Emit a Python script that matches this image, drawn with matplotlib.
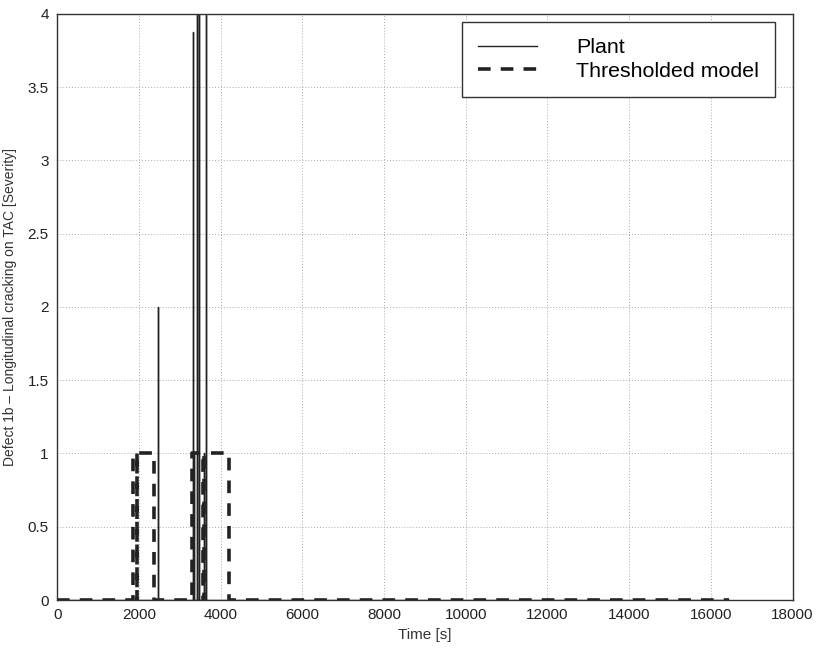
import numpy as np
import matplotlib.pyplot as plt

plt.rcParams['font.family'] = ['Liberation Sans', 'DejaVu Sans']

# plant: isolated spikes (time [s], severity), zero elsewhere
plant_spike_times = [2480, 3316, 3355, 3429, 3478, 3600, 3642]
plant_spike_heights = [2.0, 3.88, 1.0, 4.6, 4.6, 1.0, 3.99]
t_end = 16450

# thresholded model: step changes (time [s], level after the change)
model_times = [0, 1848, 1950, 1960, 2376, 3300, 3560, 3600, 4212, t_end]
model_levels = [0, 1, 0, 1, 0, 1, 0, 1, 0, 0]


def spikes(times, heights, end):
    t = [0]
    y = [0]
    for ti, hi in zip(times, heights):
        t += [ti, ti, ti]
        y += [0, hi, 0]
    t.append(end)
    y.append(0)
    return np.array(t), np.array(y)


def main():
    plant_t, plant_y = spikes(plant_spike_times, plant_spike_heights, t_end)

    fig = plt.figure(figsize=(8.18, 6.49), dpi=100)
    ax = fig.add_axes([0.0699, 0.0755, 0.8990, 0.9030])

    ax.plot(plant_t, plant_y, color="#222222", lw=1.0, label="Plant")
    ax.plot(model_times, model_levels, color="#222222", lw=2.6,
            dashes=(3.5, 2.8), drawstyle="steps-post", label="Thresholded model")

    ax.set_xlim(0, 18000)
    ax.set_ylim(0, 4)
    ax.set_xticks(np.arange(0, 18001, 2000))
    ax.set_yticks(np.arange(0, 4.01, 0.5))
    ax.set_yticklabels(["0", "0.5", "1", "1.5", "2", "2.5", "3", "3.5", "4"])
    ax.tick_params(labelsize=11, direction="in", length=0, pad=6, labelcolor="#222222")
    ax.grid(True, color="#aaaaaa", linestyle=(0, (1, 2)), lw=0.7)
    for s in ax.spines.values():
        s.set_linewidth(1.0)
        s.set_color("#333333")

    ax.set_xlabel("Time [s]", fontsize=11, color="#333333", labelpad=4)
    ax.set_ylabel("Defect 1b \u2013 Longitudinal cracking on TAC [Severity]",
                  fontsize=10, color="#333333", labelpad=8)

    leg = ax.legend(loc="upper right", fontsize=15.4, frameon=True, fancybox=False,
                    edgecolor="#333333", framealpha=1, handlelength=2.8,
                    handletextpad=1.8, borderpad=0.75, labelspacing=0.22,
                    borderaxespad=0, bbox_to_anchor=(0.976, 0.986))
    leg.get_frame().set_linewidth(1.0)

    fig.savefig("out.png", dpi=100)


if __name__ == "__main__":
    main()
